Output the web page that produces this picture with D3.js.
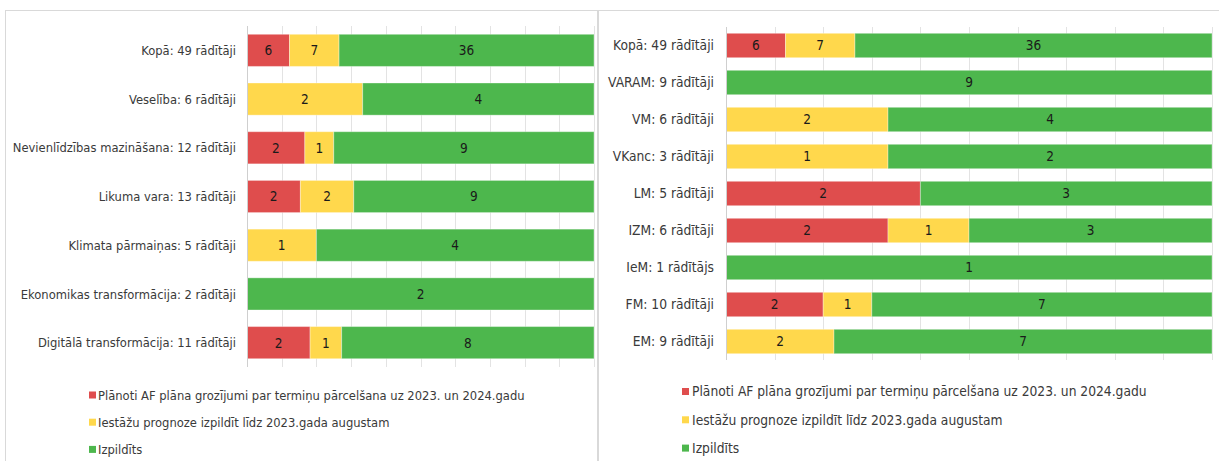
<!DOCTYPE html>
<meta charset="utf-8">
<head>
    <title>Rādītāji</title>
    <script src="https://cdn.jsdelivr.net/npm/d3@7/dist/d3.min.js"></script>
</head>

<style>
    body { margin: 0; background: #fff; }
    svg { display: block; font-family: "DejaVu Sans Condensed", "DejaVu Sans", sans-serif; }
    .panel { fill: none; stroke: #d9d9d9; }
    .grid line { stroke: #e3e3e3; }
    .cat { fill: #3a3a3a; }
    .val { fill: #1a1a1a; }
    .leg { fill: #3a3a3a; }
</style>

<svg width="1219" height="461"></svg>

<script>
    // series names + colours
    var vSeries = ["Plānoti AF plāna grozījumi par termiņu pārcelšana uz 2023. un 2024.gadu",
        "Iestāžu prognoze izpildīt līdz 2023.gada augustam",
        "Izpildīts"];
    var vColors = ["#df4d4d", "#ffd84c", "#4db74d"];

    // left chart: by area
    var vLeftCats = ["Kopā: 49 rādītāji", "Veselība: 6 rādītāji", "Nevienlīdzības mazināšana: 12 rādītāji",
        "Likuma vara: 13 rādītāji", "Klimata pārmaiņas: 5 rādītāji",
        "Ekonomikas transformācija: 2 rādītāji", "Digitālā transformācija: 11 rādītāji"];
    var vLeftRed = [6, 0, 2, 2, 0, 0, 2];
    var vLeftYellow = [7, 2, 1, 2, 1, 0, 1];
    var vLeftGreen = [36, 4, 9, 9, 4, 2, 8];

    // right chart: by institution
    var vRightCats = ["Kopā: 49 rādītāji", "VARAM: 9 rādītāji", "VM: 6 rādītāji", "VKanc: 3 rādītāji",
        "LM: 5 rādītāji", "IZM: 6 rādītāji", "IeM: 1 rādītājs", "FM: 10 rādītāji", "EM: 9 rādītāji"];
    var vRightRed = [6, 0, 0, 0, 2, 2, 0, 2, 0];
    var vRightYellow = [7, 0, 2, 1, 0, 1, 0, 1, 2];
    var vRightGreen = [36, 9, 4, 2, 3, 3, 1, 7, 7];

    var svg = d3.select('svg');

    // panel frames
    svg.append('rect').attr('class', 'panel').attr('x', 5.5).attr('y', 10.5).attr('width', 592).attr('height', 470);
    svg.append('rect').attr('class', 'panel').attr('x', 598.5).attr('y', 10.5).attr('width', 640).attr('height', 470);

    function drawChart(cats, red, yellow, green, box) {
        var g = svg.append('g');
        var rows = cats.map(function (c, i) {
            return {cat: c, vals: [red[i], yellow[i], green[i]]};
        });

        var x = d3.scaleLinear().domain([0, 1]).range([box.x0, box.x1]);
        var y = d3.scaleBand().domain(cats).range([box.y0, box.y1]).paddingInner(0.34).paddingOuter(0.17);

        // vertical gridlines
        g.append('g').attr('class', 'grid').selectAll('line')
            .data(d3.range(1, 11).map(function (d) { return d / 10; }))
            .enter().append('line')
            .attr('x1', function (d) { return Math.round(x(d)) + 0.5; })
            .attr('x2', function (d) { return Math.round(x(d)) + 0.5; })
            .attr('y1', box.y0).attr('y2', box.y1);

        // stacked segments
        var segs = [];
        rows.forEach(function (r) {
            var tot = d3.sum(r.vals), acc = 0;
            r.vals.forEach(function (v, k) {
                segs.push({cat: r.cat, k: k, v: v, a: acc / tot, b: (acc + v) / tot});
                acc += v;
            });
        });
        segs = segs.filter(function (s) { return s.v > 0; });

        g.selectAll('rect.seg').data(segs).enter().append('rect')
            .attr('class', 'seg')
            .attr('x', function (d) { return x(d.a); })
            .attr('y', function (d) { return y(d.cat); })
            .attr('width', function (d) { return x(d.b) - x(d.a); })
            .attr('height', y.bandwidth())
            .attr('fill', function (d) { return vColors[d.k]; })
            .attr('stroke', 'rgba(255,255,255,0.35)')
            .attr('stroke-width', 1);

        g.selectAll('text.val').data(segs).enter().append('text')
            .attr('class', 'val')
            .style('font-size', '13.5px')
            .attr('x', function (d) { return (x(d.a) + x(d.b)) / 2; })
            .attr('y', function (d) { return y(d.cat) + y.bandwidth() / 2; })
            .attr('dy', '0.36em')
            .attr('text-anchor', 'middle')
            .text(function (d) { return d.v; });

        // axis line
        g.append('line').attr('x1', box.x0 + 0.5).attr('x2', box.x0 + 0.5)
            .attr('y1', box.y0).attr('y2', box.y1).attr('stroke', '#cfcfcf');

        // category labels
        g.selectAll('text.cat').data(cats).enter().append('text')
            .attr('class', 'cat')
            .style('font-size', box.fs + 'px')
            .attr('x', box.labelX)
            .attr('y', function (d) { return y(d) + y.bandwidth() / 2; })
            .attr('dy', '0.36em')
            .attr('text-anchor', 'end')
            .text(function (d) { return d; });

        // legend
        var lg = g.selectAll('g.leg').data(vSeries).enter().append('g')
            .attr('class', 'leg')
            .attr('transform', function (d, i) { return 'translate(' + box.legX + ',' + (box.legY + i * box.legStep) + ')'; });
        lg.append('rect').attr('x', 0).attr('y', -3.5).attr('width', 7).attr('height', 7)
            .attr('fill', function (d, i) { return vColors[i]; });
        lg.append('text').attr('class', 'leg').style('font-size', box.legFs + 'px')
            .attr('x', box.legGap).attr('dy', '0.36em').text(function (d) { return d; });
    }

    drawChart(vLeftCats, vLeftRed, vLeftYellow, vLeftGreen,
        {x0: 247, x1: 594, y0: 26, y1: 367, labelX: 236, fs: 12.85,
            legX: 89, legY: 395, legStep: 27.2, legFs: 12.85, legGap: 9});
    drawChart(vRightCats, vRightRed, vRightYellow, vRightGreen,
        {x0: 726, x1: 1212, y0: 27, y1: 360, labelX: 714, fs: 13.7,
            legX: 682, legY: 391.5, legStep: 28.3, legFs: 13.7, legGap: 10});
</script>
